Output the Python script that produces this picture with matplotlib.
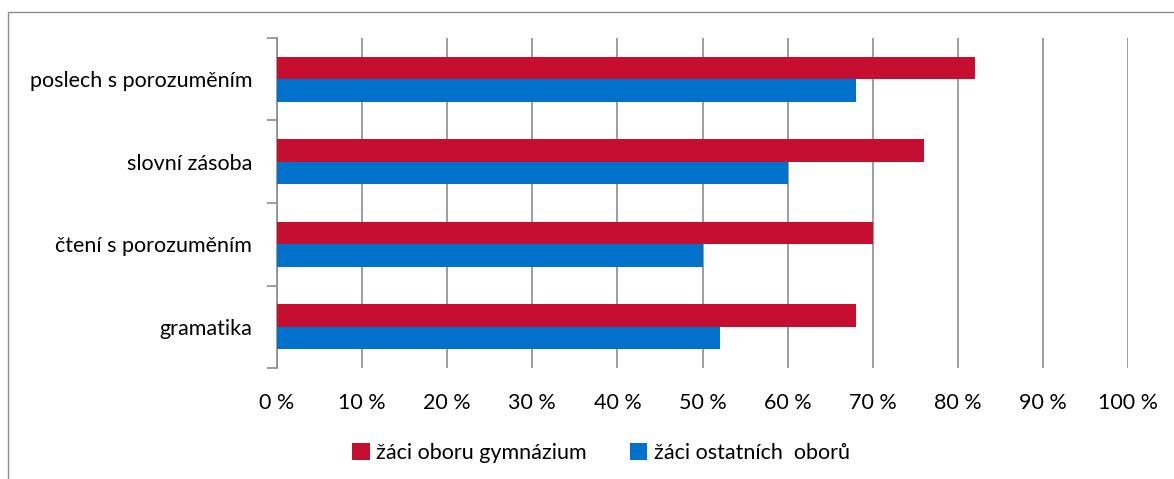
import matplotlib.pyplot as plt
import numpy as np
from matplotlib.patches import Rectangle
from matplotlib.ticker import FixedLocator

plt.rcParams['font.family'] = ['Lato', 'DejaVu Sans']

categories = ["poslech s porozuměním", "slovní zásoba", "čtení s porozuměním", "gramatika"]
gymnazium = [82, 76, 70, 68]
ostatni = [68, 60, 50, 52]
tick_vals = [0, 10, 20, 30, 40, 50, 60, 70, 80, 90, 100]
tick_labels = ["%d %%" % v for v in tick_vals]
series_names = ["žáci oboru gymnázium", "žáci ostatních  oborů"]

red = "#C50E30"
blue = "#0072CC"
grid_c = "#8C8C8C"
fs = 15.5

fig = plt.figure(figsize=(11.74, 4.79), dpi=100)
ax = fig.add_axes([277 / 1174, 1 - 368 / 479, (1128 - 277) / 1174, (368 - 38) / 479])

# categories top to bottom
pos = np.arange(len(categories))[::-1]
h = 0.27
ax.barh(pos + h / 2, gymnazium, height=h, color=red, label=series_names[0], zorder=3)
ax.barh(pos - h / 2, ostatni, height=h, color=blue, label=series_names[1], zorder=3)

ax.set_xlim(0, 100)
ax.set_ylim(-0.5, len(categories) - 0.5)
ax.set_xticks(tick_vals)
ax.set_xticklabels(tick_labels, fontsize=fs)
ax.tick_params(axis='x', length=0, pad=18)
ax.grid(axis='x', color=grid_c, linewidth=1.2, zorder=0)

ax.set_yticks(pos)
ax.set_yticklabels(categories, fontsize=fs)
ax.tick_params(axis='y', which='major', length=0, pad=18)
ax.yaxis.set_minor_locator(FixedLocator(np.arange(-0.5, len(categories), 1)))
ax.tick_params(axis='y', which='minor', length=7, color=grid_c, width=1.2)

for s in ['top', 'right', 'bottom']:
    ax.spines[s].set_visible(False)
ax.spines['left'].set_color(grid_c)
ax.spines['left'].set_linewidth(1.2)

# outer frame of the chart area
fig.patches.append(Rectangle((8 / 1174, -0.1), 1.2, 1 - 12 / 479 + 0.1, transform=fig.transFigure,
                             fill=False, edgecolor="#8C8C8C", linewidth=1, zorder=0))

fig.legend(loc='center', bbox_to_anchor=(601 / 1174, 1 - 453 / 479), ncol=2, frameon=False,
           fontsize=fs, handlelength=0.8, handleheight=0.8, handletextpad=0.3, columnspacing=2.0)

fig.savefig("out.png", dpi=100)
